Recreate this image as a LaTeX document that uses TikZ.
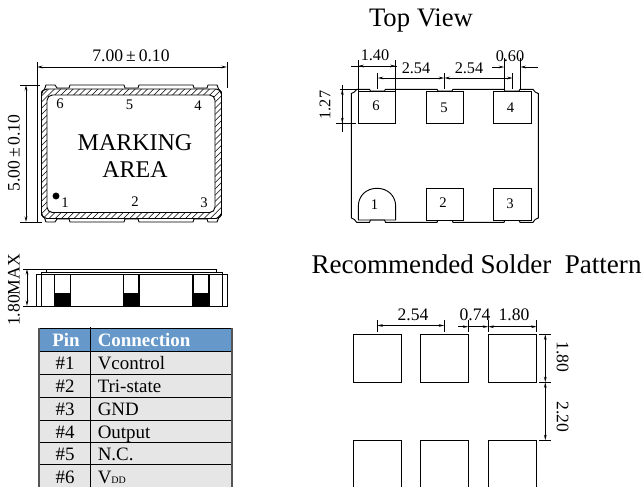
\documentclass[tikz,border=0pt]{standalone}
\usepackage{fontspec}
\setmainfont{Liberation Serif}
\usetikzlibrary{arrows.meta}
\definecolor{headblue}{HTML}{6699C9}
\definecolor{rowgrey}{HTML}{E6E6E6}
\definecolor{edgegrey}{HTML}{555555}
\tikzset{
  ln/.style={line width=0.7pt,black},
  thk/.style={line width=1.1pt,black},
  dimline/.style={line width=0.6pt,black,{Stealth[length=4.2pt,width=2pt]}-{Stealth[length=4.2pt,width=2pt]}},
  arrowL/.style={line width=0.6pt,black,-{Stealth[length=4.2pt,width=2pt]}},
  ext/.style={line width=0.6pt,black},
  dimtxt/.style={inner sep=0pt,font=\fontsize{13.2}{15}\selectfont},
  dimsmall/.style={inner sep=0pt,font=\fontsize{12.2}{14}\selectfont},
  pinlbl/.style={inner sep=0pt,font=\fontsize{11}{13}\selectfont},
  marktxt/.style={inner sep=0pt,font=\fontsize{18}{20}\selectfont},
  rowtxt/.style={inner sep=0pt,anchor=base west,font=\fontsize{14.2}{16}\selectfont},
  rownum/.style={inner sep=0pt,anchor=base,font=\fontsize{14.2}{16}\selectfont},
  headtxt/.style={inner sep=0pt,anchor=base,text=white,font=\fontsize{14.2}{16}\selectfont\bfseries},
  titletxt/.style={inner sep=0pt,font=\fontsize{20}{22}\selectfont},
  hatchln/.style={line width=0.4pt,black},
}
\begin{document}
\begin{tikzpicture}[x=0.75pt,y=-0.75pt]
\useasboundingbox (0,0) rectangle (643,486);
\clip (0,0) rectangle (643,486);

% ---------- package, marking view
\begin{scope}
  \clip[rounded corners=4pt] (41.5,89) rectangle (221.5,218.5);
  \foreach \i in {0,...,60}
    \draw[hatchln] ({-100+6.2*\i},225) -- ({40+6.2*\i},85);
\end{scope}
\draw[ln,rounded corners=4pt] (41.5,89) rectangle (221.5,218.5);
\draw[ln,fill=white,rounded corners=4pt] (47,95) rectangle (215,212.5);
\draw[ln]
  (41.5,92) .. controls (44,91) and (45.5,88) .. (46,85) -- (55,85) -- (57,88) -- (69,88) -- (70,85)
  -- (124,85) -- (125,88) -- (138,88) -- (139,85) -- (193,85) -- (194,88) -- (207,88) -- (208,85) -- (217,85)
  .. controls (218,88) and (219,91) .. (221.5,92) -- (221.5,215)
  .. controls (219,216) and (218,219) .. (217,222) -- (208,222) -- (207,219) -- (194,219) -- (193,222)
  -- (139,222) -- (138,219) -- (125,219) -- (124,222) -- (70,222) -- (69,219) -- (57,219) -- (55,222) -- (46,222)
  .. controls (45.5,219) and (44,216) .. (41.5,215) -- cycle;
\draw[ext] (37,62) -- (37,222);
\draw[ext] (227,62) -- (227,88);
\draw[ext] (20,85) -- (40,85);
\draw[ext] (20,222) -- (42,222);
\coordinate (wa) at (37,67); \coordinate (wb) at (227,67);
\draw[dimline] (wa) -- (wb);
\coordinate (ha) at (26,85); \coordinate (hb) at (26,222);
\draw[dimline] (ha) -- (hb);
\node[dimtxt] (w700) at (131,56) {7.00\,±\,0.10};
\node[dimtxt,rotate=90] (h500) at (14,153) {5.00\,±\,0.10};
\node[pinlbl] (mk6) at (60,104) {6};
\node[pinlbl] (mk5) at (129.5,105) {5};
\node[pinlbl] (mk4) at (198,106) {4};
\node[pinlbl] (mk1) at (65,203) {1};
\node[pinlbl] (mk2) at (135,202) {2};
\node[pinlbl] (mk3) at (204,203) {3};
\fill[black] (56,196) circle[radius=2.6pt];
\node[marktxt] (marking) at (135,143) {MARKING};
\node[marktxt] (area) at (135,170) {AREA};

% ---------- side view
\draw[ln] (36,274) rectangle (227,306);
\draw[ln] (41,306) -- (41,272.5) -- (222,272.5) -- (222,306);
\draw[ln] (46,272.5) -- (46,269) -- (216,269) -- (216,272.5);
\draw[ext] (23,269) -- (46,269);
\draw[ext] (23,306) -- (36,306);
\coordinate (sa) at (27,269); \coordinate (sb) at (27,306);
\draw[dimline] (sa) -- (sb);
\foreach \xa/\xb in {54.5/70.5,123.5/139,193/209}{
  \fill[black] (\xa,293) rectangle (\xb,306);
  \draw[thk] (\xa,274) -- (\xa,306);
  \draw[thk] (\xb,274) -- (\xb,306);
}
\node[dimtxt,rotate=90] (h180) at (14,290) {1.80MAX};

% ---------- table
\fill[headblue] (39,328) rectangle (232,351);
\fill[rowgrey] (39,351) rectangle (232,490);
\draw[ln] (39,328) -- (232,328);
\foreach \yy in {351,374,397,420,442,464}
  \draw[ln] (39,\yy) -- (232,\yy);
\draw[ln] (90.3,327) -- (90.3,490);
\draw[line width=0.9pt,edgegrey] (39,328) -- (39,490);
\draw[line width=0.9pt,edgegrey] (232,328) -- (232,490);
\node[headtxt] (tpin) at (66,346.5) {Pin};
\node[headtxt,anchor=base west] (tcon) at (97.5,346.5) {Connection};
\node[rownum] (n1) at (65,369.5) {\#1};
\node[rowtxt] (c1) at (97.5,369.5) {Vcontrol};
\node[rownum] (n2) at (65,392.5) {\#2};
\node[rowtxt] (c2) at (97.5,392.5) {Tri-state};
\node[rownum] (n3) at (65,415.5) {\#3};
\node[rowtxt] (c3) at (97.5,415.5) {GND};
\node[rownum] (n4) at (65,438) {\#4};
\node[rowtxt] (c4) at (97.5,438) {Output};
\node[rownum] (n5) at (65,460) {\#5};
\node[rowtxt] (c5) at (97.5,460) {N.C.};
\node[rownum] (n6) at (65,483) {\#6};
\node[rowtxt] (c6) at (97.5,483) {V{\fontsize{7.5}{9}\selectfont DD}};

% ---------- top view
\node[titletxt] (ttop) at (421,21) {Top View};
\draw[ln]
  (351.3,93.5) .. controls (353.5,93) and (355.5,91.5) .. (356.7,89.3) -- (369.5,89.3) -- (370.5,91) -- (384.5,91) -- (385.5,89.3)
  -- (437,89.3) -- (438,91) -- (452,91) -- (453,89.3) -- (504,89.3) -- (505,91) -- (519,91) -- (520,89.3) -- (533,89.3)
  .. controls (534,91.5) and (536,93) .. (538.3,93.5) -- (538.3,218)
  .. controls (536,218.5) and (534,220) .. (533,222.3) -- (520,222.3) -- (519,220) -- (505,220) -- (504,222.3)
  -- (453,222.3) -- (452,220) -- (438,220) -- (437,222.3) -- (385.5,222.3) -- (384.5,220) -- (370.5,220) -- (369.5,222.3) -- (356.7,222.3)
  .. controls (355.5,220) and (353.5,218.5) .. (351.3,218) -- cycle;
\draw[ln,fill=white] (358.3,91) rectangle (395.7,123.3);
\draw[ln,fill=white] (426.3,91) rectangle (463.7,123.3);
\draw[ln,fill=white] (493.7,91) rectangle (531,123.3);
\draw[ln,fill=white] (426.3,188.3) rectangle (463.7,220);
\draw[ln,fill=white] (493.7,188.3) rectangle (531,220);
\draw[ln] (358.3,220) -- (358.3,206.5) .. controls (358.3,196) and (366,188.3) .. (377,188.3)
  .. controls (388,188.3) and (395.7,196) .. (395.7,206.5) -- (395.7,220) -- cycle;
\node[pinlbl] (tv6) at (376,106) {6};
\node[pinlbl] (tv5) at (444,108) {5};
\node[pinlbl] (tv4) at (510.5,108) {4};
\node[pinlbl] (tv1) at (374.5,205) {1};
\node[pinlbl] (tv2) at (443,203) {2};
\node[pinlbl] (tv3) at (510,204) {3};
% 1.40
\draw[ext] (358.3,60) -- (358.3,91);
\draw[ext] (395.7,60) -- (395.7,91);
\draw[ext] (351,66) -- (397,66);
\coordinate (p14a) at (358.3,66); \coordinate (p14b) at (395.7,66);
\draw[dimline] (p14a) -- (p14b);
\node[dimsmall] (d140) at (375,55) {1.40};
% 2.54 x 2
\draw[ext] (377.7,73) -- (377.7,89);
\draw[ext] (444.3,73) -- (444.3,89);
\draw[ext] (512.7,73) -- (512.7,89);
\coordinate (p25a) at (377.7,78); \coordinate (p25b) at (444.3,78); \coordinate (p25c) at (512.7,78);
\draw[dimline] (p25a) -- (p25b);
\draw[dimline] (p25b) -- (p25c);
\node[dimsmall] (d254a) at (416,68) {2.54};
\node[dimsmall] (d254b) at (469,68) {2.54};
% 0.60
\draw[ext] (504.3,58) -- (504.3,90);
\draw[ext] (520.3,58) -- (520.3,90);
\coordinate (p06a) at (492,67); \coordinate (p06b) at (504.3,67);
\coordinate (p06c) at (538,67); \coordinate (p06d) at (520.3,67);
\draw[arrowL] (p06a) -- (p06b);
\draw[arrowL] (p06c) -- (p06d);
\node[dimsmall] (d060) at (510,56) {0.60};
% 1.27
\draw[ext] (340,89.3) -- (356,89.3);
\draw[ext] (336,123.3) -- (356,123.3);
\draw[ext] (342.3,85) -- (342.3,132);
\coordinate (p12a) at (342.3,89.3); \coordinate (p12b) at (342.3,123.3);
\draw[dimline] (p12a) -- (p12b);
\node[dimsmall,rotate=90] (d127) at (325,105) {1.27};

% ---------- solder pattern
\node[inner sep=0pt,font=\fontsize{20.3}{24}\selectfont] (tsol) at (476.5,264) {Recommended Solder\ \ Pattern};
\foreach \xa/\xb in {353.3/401.7,420.3/468.3,488.3/536.3}{
  \draw[ln] (\xa,334.3) rectangle (\xb,382.3);
  \draw[ln] (\xa,490) -- (\xa,440.3) -- (\xb,440.3) -- (\xb,490);
}
\draw[ext] (377.3,320) -- (377.3,332);
\draw[ext] (444.3,320) -- (444.3,332);
\coordinate (s25a) at (377.3,325.5); \coordinate (s25b) at (444.3,325.5);
\draw[dimline] (s25a) -- (s25b);
\node[dimtxt] (s254) at (413,315) {2.54};
\draw[ext] (468.3,320) -- (468.3,332);
\draw[ext] (488.3,320) -- (488.3,332);
\draw[ext] (536.7,320) -- (536.7,332);
\coordinate (s07a) at (458.3,326.7); \coordinate (s07b) at (468.3,326.7);
\coordinate (s07c) at (488.3,326.7); \coordinate (s07d) at (536.7,326.7);
\draw[arrowL] (s07a) -- (s07b);
\draw[arrowL] (s07b) -- (s07c);
\draw[dimline] (s07c) -- (s07d);
\node[dimtxt] (s074) at (475,315) {0.74};
\node[dimtxt] (s180) at (514,315) {1.80};
\draw[ext] (539.3,334.3) -- (550.7,334.3);
\draw[ext] (539.3,382.3) -- (550.7,382.3);
\draw[ext] (539.3,440.3) -- (550.7,440.3);
\coordinate (v1) at (545.3,334.3); \coordinate (v2) at (545.3,382.3); \coordinate (v3) at (545.3,440.3);
\draw[dimline] (v1) -- (v2);
\draw[dimline] (v2) -- (v3);
\node[dimtxt,rotate=-90] (v180) at (562.7,356.7) {1.80};
\node[dimtxt,rotate=-90] (v220) at (562.7,416.7) {2.20};
\end{tikzpicture}
\end{document}
